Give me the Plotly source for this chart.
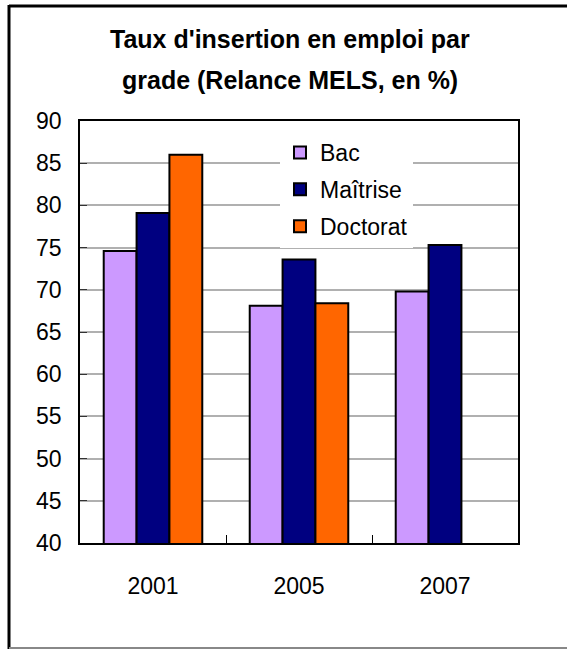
import plotly.graph_objects as go

years = ["2001", "2005", "2007"]
bac = [74.6, 68.1, 69.8]
maitrise = [79.1, 73.6, 75.3]
doctorat = [86.0, 68.4, None]
series_names = ["Bac", "Maîtrise", "Doctorat"]
series_colors = ["#CC99FF", "#000080", "#FF6600"]
y_ticks = [40, 45, 50, 55, 60, 65, 70, 75, 80, 85, 90]
title_lines = ["Taux d'insertion en emploi par", "grade (Relance MELS, en %)"]

FONT = "Liberation Sans, Arial, sans-serif"

fig = go.Figure()
for name, vals, col in zip(series_names, [bac, maitrise, doctorat], series_colors):
    fig.add_trace(go.Bar(x=years, y=vals, name=name, legendgroup=name,
                         marker=dict(color=col, line=dict(color="black", width=2))))

W, H = 567, 650
L, R, T, B = 80, 49, 121, 107
pw, ph = W - L - R, H - T - B

def px(x):
    return (x - L) / pw

def py(y):
    return (H - B - y) / ph

annotations = []
for txt, yc in zip(title_lines, [39, 80]):
    annotations.append(dict(text="<b>" + txt + "</b>", xref="paper", yref="paper",
                            x=px(290), y=py(yc), xanchor="center", yanchor="middle",
                            showarrow=False, font=dict(family=FONT, size=25, color="black")))

fig.update_layout(
    width=W, height=H,
    margin=dict(l=L, r=R, t=T, b=B),
    paper_bgcolor="white", plot_bgcolor="white",
    barmode="group", bargap=0.325, bargroupgap=0,
    font=dict(family=FONT, color="black", size=23),
    annotations=annotations,
    showlegend=True,
    legend=dict(x=px(280), y=py(131), xanchor="left", yanchor="top",
                bgcolor="white", borderwidth=0, font=dict(family=FONT, size=23),
                tracegroupgap=4, itemclick=False),
    xaxis=dict(type="category", showline=True, linecolor="black", linewidth=1.5, mirror=True,
               ticks="inside", ticklen=8, tickcolor="black", tickson="boundaries",
               tickfont=dict(size=23), ticklabelstandoff=22, showgrid=False),
    yaxis=dict(range=[40, 90], tickvals=y_ticks, showline=True, linecolor="black", linewidth=1.5,
               mirror=True, ticks="inside", ticklen=7, tickcolor="#333333",
               showgrid=True, gridcolor="#B0B0B0", gridwidth=1.5,
               tickfont=dict(size=23), ticklabelstandoff=12, zeroline=False),
    shapes=[
        dict(type="line", xref="paper", yref="paper", x0=px(9), x1=px(600), y0=py(6), y1=py(6),
             line=dict(color="black", width=3)),
        dict(type="line", xref="paper", yref="paper", x0=px(9), x1=px(9), y0=py(5), y1=py(649),
             line=dict(color="black", width=3)),
        dict(type="line", xref="paper", yref="paper", x0=px(9), x1=px(600), y0=py(648), y1=py(648),
             line=dict(color="#888888", width=2)),
    ],
)

fig.write_html("out.html", config={"displayModeBar": False},
               post_script="document.body.style.margin='0';document.body.style.overflow='hidden';")
